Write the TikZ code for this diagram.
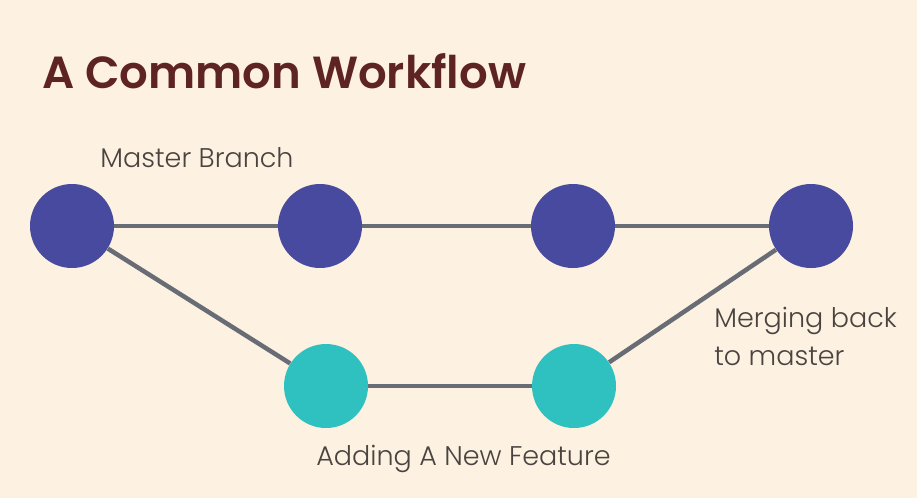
\documentclass[tikz,border=0pt]{standalone}
\usepackage{fontspec}
\setmainfont{Poppins}
\newfontfamily\titlefont{Poppins SemiBold}
\newfontfamily\labelfont{Poppins Light}

\definecolor{paper}{RGB}{253,241,225}
\definecolor{master}{RGB}{71,74,158}
\definecolor{feature}{RGB}{46,193,191}
\definecolor{edge}{RGB}{104,108,116}
\definecolor{heading}{RGB}{94,36,36}
\definecolor{caption}{RGB}{74,67,64}

\tikzset{every picture/.style={line width=0.75pt}}
\tikzset{
  commit/.style={circle,minimum size=84pt,inner sep=0pt},
  masterc/.style={commit,fill=master},
  featurec/.style={commit,fill=feature},
  link/.style={draw=edge,line width=4.5pt},
  lbl/.style={inner sep=0pt,text=caption,font=\labelfont\fontsize{27}{38}\selectfont}
}

\begin{document}
\begin{tikzpicture}[x=1pt,y=1pt,yscale=-1]
%set diagram left start at 0, and has height of 498
\fill[paper] (0,0) rectangle (917,498);
\useasboundingbox (0,0) rectangle (917,498);

% Title
\node (title) [anchor=base west,inner sep=0pt,text=heading,font=\titlefont\fontsize{45}{54}\selectfont] at (42,88) {A Common Workflow};

%Shape: Circle (master line)
\node (m1) [masterc] at (72,226) {};
\node (m2) [masterc] at (320,226) {};
\node (m3) [masterc] at (573,226) {};
\node (m4) [masterc] at (811,226) {};
%Shape: Circle (feature line)
\node (f1) [featurec] at (326,386) {};
\node (f2) [featurec] at (574,386) {};

%Straight Lines
\draw [link] (m1) -- (m2);
\draw [link] (m2) -- (m3);
\draw [link] (m3) -- (m4);
\draw [link] (m1) -- (f1);
\draw [link] (f1) -- (f2);
\draw [link] (f2) -- (m4);

% Text Node
\node (lmaster) [lbl,anchor=base west] at (100,167) {Master Branch};
% Text Node
\node (lfeature) [lbl,anchor=base west] at (316,465) {Adding A New Feature};
% Text Node (base is the last line)
\node (lmerge) [lbl,anchor=base west,align=left] at (714,365) {Merging back\\to master};

\end{tikzpicture}
\end{document}
